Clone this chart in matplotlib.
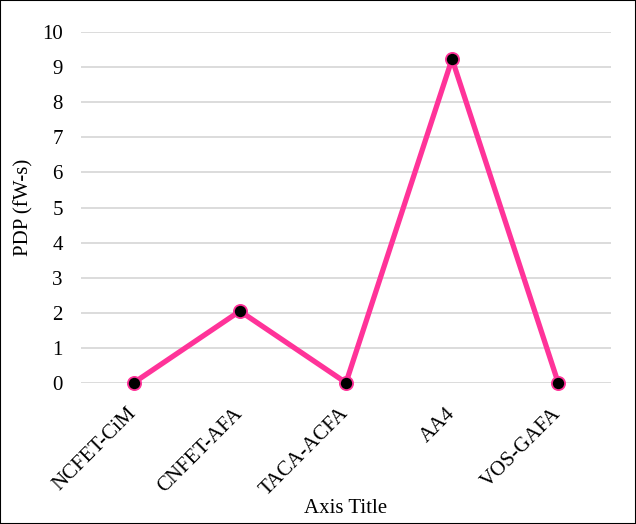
import matplotlib.pyplot as plt

# PDP per design
designs = ['NCFET-CiM', 'CNFET-AFA', 'TACA-ACFA', 'AA4', 'VOS-GAFA']
pdp = [0.01, 2.05, 0.01, 9.23, 0.01]

plt.rcParams['font.family'] = ['Liberation Serif', 'DejaVu Serif']

fig = plt.figure(figsize=(6.36, 5.24), dpi=100)
ax = fig.add_axes([0.127, 0.269, 0.834, 0.670])

ax.plot(range(len(designs)), pdp, color='#ff3399', linewidth=3.8,
        marker='o', markersize=9.5, markerfacecolor='black',
        markeredgecolor='#ff3399', markeredgewidth=1.3, zorder=3,
        clip_on=False)

ax.set_xlim(-0.5, len(designs) - 0.5)
ax.set_ylim(0, 10)
ax.set_yticks(range(0, 11))
ax.set_xticks(range(len(designs)))
ax.set_xticklabels(designs, rotation=45, ha='right', va='center',
                   rotation_mode='anchor')
ax.tick_params(axis='both', labelsize=15, length=0)
ax.tick_params(axis='y', pad=13)
ax.tick_params(axis='x', pad=20)
ax.grid(axis='y', color='#d9d9d9', linewidth=1.3)
ax.set_axisbelow(True)
for s in ax.spines.values():
    s.set_visible(False)

ax.set_ylabel('PDP (fW-s)', fontsize=15, labelpad=6)
fig.text(0.5 * (0.127 + 0.961), 0.029, 'Axis Title', ha='center',
         va='center', fontsize=15)

fig.patches.append(plt.Rectangle((0, 0), 1, 1, transform=fig.transFigure,
                                 fill=False, edgecolor='black', linewidth=1.5))

fig.savefig('out.png', dpi=100)
